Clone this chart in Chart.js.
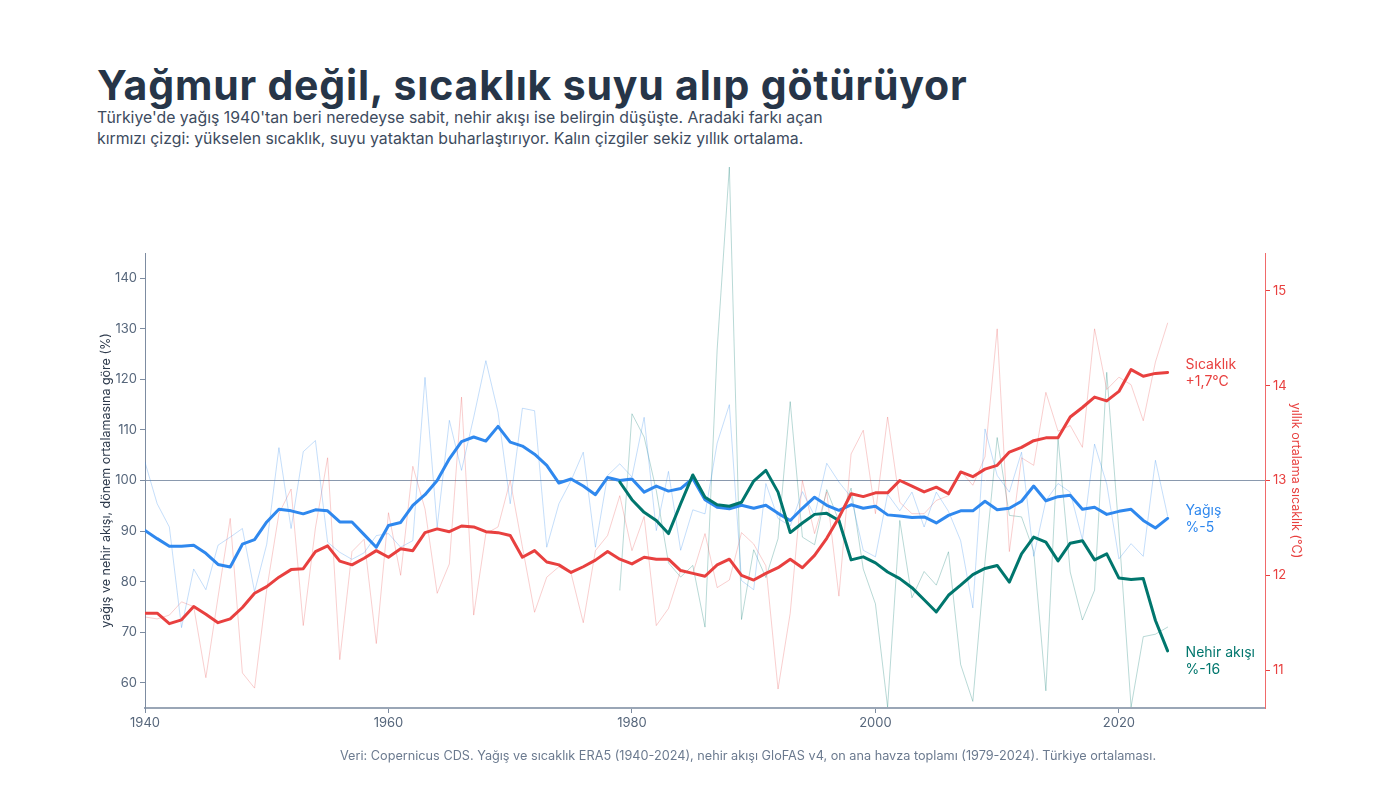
<!DOCTYPE html>
<html lang="tr">
<head>
<meta charset="utf-8">
<title>Yağmur değil, sıcaklık suyu alıp götürüyor</title>
<script src="https://cdn.jsdelivr.net/npm/chart.js@4.4.1/dist/chart.umd.min.js"></script>
<style>
  html, body { margin: 0; padding: 0; background: #fff; }
  body { width: 1400px; height: 788px; position: relative; overflow: hidden; font-family: "Inter", "Noto Sans", sans-serif; }
  #wrap { position: absolute; left: 0; top: 0; width: 1400px; height: 788px; }
  h1 { position: absolute; left: 97px; top: 60px; margin: 0; font-size: 41px; font-weight: 700; color: #263548; letter-spacing: 0.8px; }
  .sub { position: absolute; left: 97px; top: 107px; margin: 0; font-size: 15.8px; line-height: 21px; color: #3d4b5e; }
  .note { position: absolute; left: 340px; top: 748px; margin: 0; font-size: 12.7px; color: #6b7a8f; }
</style>
</head>
<body>
<h1>Yağmur değil, sıcaklık suyu alıp götürüyor</h1>
<p class="sub">Türkiye'de yağış 1940'tan beri neredeyse sabit, nehir akışı ise belirgin düşüşte. Aradaki farkı açan<br>kırmızı çizgi: yükselen sıcaklık, suyu yataktan buharlaştırıyor. Kalın çizgiler sekiz yıllık ortalama.</p>
<div id="wrap"><canvas id="chart" width="1400" height="788"></canvas></div>
<p class="note">Veri: Copernicus CDS. Yağış ve sıcaklık ERA5 (1940-2024), nehir akışı GloFAS v4, on ana havza toplamı (1979-2024). Türkiye ortalaması.</p>

<script>
// yıllar
const years = [];
for (let y = 1940; y <= 2024; y++) years.push(y);
const flowYears = years.filter(y => y >= 1979);

// yağış, dönem ortalamasına göre %
const precipRaw = [
  103.6, 95.4, 90.8, 70.9, 82.5, 78.4, 87.2, 88.8, 90.5, 78.0,
  87.4, 106.5, 90.5, 105.7, 107.9, 87.8, 85.8, 84.4, 85.7, 89.1,
  89.5, 86.8, 88.1, 120.4, 90.8, 111.9, 102.0, 112.5, 123.7, 113.5,
  95.4, 114.3, 113.8, 86.8, 95.4, 100.0, 105.6, 86.8, 101.0, 103.3,
  100.7, 112.5, 90.1, 101.8, 86.2, 94.2, 93.4, 107.4, 115.0, 80.2,
  78.4, 99.4, 92.5, 91.0, 97.8, 93.0, 103.4, 99.7, 96.7, 86.2,
  84.9, 97.3, 94.0, 97.7, 90.8, 97.7, 93.9, 88.1, 74.8, 110.2,
  101.0, 97.7, 105.6, 85.0, 96.0, 99.4, 97.7, 88.3, 107.2, 99.3,
  84.5, 87.5, 85.0, 104.0, 93.0
];
const precipSmooth = [
  90.1, 88.5, 87.0, 87.0, 87.2, 85.6, 83.4, 82.9, 87.4, 88.3,
  91.8, 94.3, 94.0, 93.4, 94.2, 94.0, 91.8, 91.8, 89.3, 86.8,
  91.1, 91.7, 95.1, 97.2, 100.0, 104.3, 107.7, 108.6, 107.8, 110.7,
  107.6, 106.8, 105.2, 103.0, 99.5, 100.3, 98.9, 97.2, 100.6, 100.0,
  100.3, 97.7, 98.9, 97.9, 98.4, 100.4, 96.2, 94.7, 94.4, 95.1,
  94.5, 95.1, 93.5, 92.1, 94.5, 96.7, 95.1, 94.1, 95.2, 94.5,
  94.9, 93.2, 93.0, 92.7, 92.8, 91.6, 93.1, 94.0, 94.0, 95.9,
  94.2, 94.5, 95.9, 98.9, 96.0, 96.8, 97.1, 94.3, 94.7, 93.3,
  93.9, 94.3, 92.1, 90.6, 92.5
];

// yıllık ortalama sıcaklık °C
const tempRaw = [
  11.56, 11.54, 11.58, 11.72, 11.67, 10.92, 11.77, 12.60, 10.97, 10.81,
  11.85, 12.65, 12.91, 11.47, 12.50, 13.24, 11.11, 12.25, 12.38, 11.28,
  12.66, 12.00, 13.15, 12.70, 11.81, 12.12, 13.88, 11.58, 12.44, 12.51,
  13.00, 12.30, 11.61, 11.98, 12.09, 12.02, 11.50, 12.26, 12.42, 12.84,
  12.26, 12.62, 11.47, 11.65, 12.05, 12.02, 12.44, 11.87, 11.95, 12.45,
  12.33, 12.10, 10.80, 11.60, 13.00, 12.44, 12.88, 11.78, 13.28, 13.53,
  12.65, 13.67, 12.77, 12.65, 12.65, 12.79, 12.84, 13.10, 12.95, 13.25,
  14.60, 12.25, 13.24, 13.16, 13.93, 13.52, 13.58, 13.35, 14.60, 13.96,
  14.09, 14.01, 13.63, 14.25, 14.66
];
const tempSmooth = [
  11.60, 11.60, 11.49, 11.53, 11.67, 11.59, 11.50, 11.54, 11.66, 11.81,
  11.88, 11.98, 12.06, 12.07, 12.25, 12.31, 12.15, 12.11, 12.18, 12.26,
  12.19, 12.28, 12.26, 12.45, 12.49, 12.46, 12.52, 12.51, 12.46, 12.45,
  12.42, 12.19, 12.26, 12.14, 12.11, 12.03, 12.09, 12.16, 12.25, 12.17,
  12.12, 12.19, 12.17, 12.17, 12.05, 12.02, 11.99, 12.11, 12.17, 12.00,
  11.95, 12.02, 12.08, 12.17, 12.08, 12.21, 12.39, 12.61, 12.86, 12.83,
  12.87, 12.87, 13.00, 12.94, 12.88, 12.93, 12.86, 13.09, 13.04, 13.12,
  13.16, 13.30, 13.35, 13.42, 13.45, 13.45, 13.67, 13.77, 13.88, 13.84,
  13.94, 14.17, 14.10, 14.13, 14.14
];

// nehir akışı, dönem ortalamasına göre % (1979-2024)
const flowRaw = [
  78.3, 113.2, 108.6, 98.0, 83.7, 80.9, 83.2, 71.0, 126.0, 162.0, 72.5,
  86.3, 80.8, 88.5, 115.6, 88.8, 87.3, 98.2, 92.0, 98.5, 82.5,
  75.6, 55.2, 92.1, 76.8, 82.0, 79.3, 85.9, 63.6, 56.3, 84.0,
  108.5, 93.1, 92.8, 86.0, 58.4, 108.4, 81.9, 72.4, 78.3, 121.4,
  90.0, 55.2, 69.1, 69.6, 71.0
];
const flowSmooth = [
  99.7, 96.2, 93.7, 92.1, 89.5, 95.4, 101.1, 96.7, 95.2, 94.9, 95.7,
  99.9, 102.0, 97.7, 89.7, 91.6, 93.3, 93.5, 92.1, 84.3, 84.9,
  83.7, 81.9, 80.6, 78.8, 76.4, 74.0, 77.3, 79.3, 81.4, 82.6,
  83.2, 79.9, 85.5, 88.8, 87.8, 84.1, 87.6, 88.1, 84.3, 85.5,
  80.7, 80.4, 80.6, 72.3, 66.3
];

// eksen işaretleri
const xTicks = [1940, 1960, 1980, 2000, 2020];
const pctTicks = [60, 70, 80, 90, 100, 110, 120, 130, 140];
const tempTicks = [11, 12, 13, 14, 15];

// uç etiketleri
const endLabels = [
  { ds: 0, lines: ['Sıcaklık', '+1,7°C'], color: '#e8403f', shift: 0 },
  { ds: 1, lines: ['Nehir akışı', '%-16'], color: '#00766d', shift: 10 },
  { ds: 2, lines: ['Yağış', '%-5'], color: '#2f88ee', shift: 0 }
];

const pts = (xs, ys) => xs.map((x, i) => ({ x: x, y: ys[i] }));

const BLUE = '#2f88ee', RED = '#e8403f', TEAL = '#00766d';
const AXIS = '#7d8ca1', TICK = '#56667b';
const FONT = '"Inter", "Noto Sans", sans-serif';

const endLabelPlugin = {
  id: 'endLabels',
  afterDatasetsDraw(chart) {
    const c = chart.ctx;
    c.save();
    c.font = '14px ' + FONT;
    c.textBaseline = 'middle';
    c.textAlign = 'left';
    endLabels.forEach(l => {
      const meta = chart.getDatasetMeta(l.ds);
      const p = meta.data[meta.data.length - 1];
      c.fillStyle = l.color;
      const y0 = p.y + l.shift - 8;
      l.lines.forEach((t, i) => c.fillText(t, p.x + 18, y0 + i * 17));
    });
    c.restore();
  }
};

new Chart(document.getElementById('chart'), {
  type: 'line',
  data: {
    datasets: [
      { data: pts(years, tempSmooth), yAxisID: 'yT', borderColor: RED, borderWidth: 3, order: 0 },
      { data: pts(flowYears, flowSmooth), yAxisID: 'y', borderColor: TEAL, borderWidth: 3, order: 1 },
      { data: pts(years, precipSmooth), yAxisID: 'y', borderColor: BLUE, borderWidth: 3, order: 2 },
      { data: pts(years, precipRaw), yAxisID: 'y', borderColor: 'rgba(47,136,238,0.28)', borderWidth: 1, order: 3 },
      { data: pts(years, tempRaw), yAxisID: 'yT', borderColor: 'rgba(232,64,63,0.25)', borderWidth: 1, order: 3 },
      { data: pts(flowYears, flowRaw), yAxisID: 'y', borderColor: 'rgba(0,118,109,0.28)', borderWidth: 1, order: 3, clip: false }
    ]
  },
  options: {
    responsive: false,
    animation: false,
    events: [],
    elements: { point: { radius: 0 }, line: { tension: 0, borderJoinStyle: 'round', borderCapStyle: 'round' } },
    layout: { padding: { top: 253, left: 95, right: 93, bottom: 0 } },
    plugins: { legend: { display: false }, tooltip: { enabled: false } },
    scales: {
      x: {
        type: 'linear', min: 1940, max: 2032,
        afterBuildTicks: s => { s.ticks = xTicks.map(v => ({ value: v })); },
        afterFit: s => { s.height = 80; },
        ticks: { color: TICK, font: { family: FONT, size: 13 }, padding: 2, maxRotation: 0, callback: v => String(v) },
        grid: { drawOnChartArea: false, tickLength: 5, tickColor: AXIS },
        border: { color: '#9aa6b6', width: 2 }
      },
      y: {
        position: 'left', min: 55, max: 145,
        afterBuildTicks: s => { s.ticks = pctTicks.map(v => ({ value: v })); },
        afterFit: s => { s.width = 50; },
        ticks: { color: TICK, font: { family: FONT, size: 13 }, padding: 3 },
        grid: {
          color: c => (c.tick && c.tick.value === 100) ? '#8a99ae' : 'rgba(0,0,0,0)',
          tickColor: AXIS, tickLength: 5, lineWidth: 1
        },
        border: { color: AXIS, width: 1 },
        title: { display: true, text: 'yağış ve nehir akışı, dönem ortalamasına göre (%)', color: '#2d3a4c', font: { family: FONT, size: 12.5 }, padding: { top: 4, bottom: 0 } }
      },
      yT: {
        position: 'right', min: 10.6, max: 15.4,
        afterBuildTicks: s => { s.ticks = tempTicks.map(v => ({ value: v })); },
        afterFit: s => { s.width = 42; },
        ticks: { color: RED, font: { family: FONT, size: 13 }, padding: 3 },
        grid: { drawOnChartArea: false, tickColor: RED, tickLength: 5 },
        border: { color: '#f06a6a', width: 1 },
        title: { display: true, text: 'yıllık ortalama sıcaklık (°C)', color: RED, font: { family: FONT, size: 12.5 }, padding: { top: 4, bottom: 0 } }
      }
    }
  },
  plugins: [endLabelPlugin]
});
</script>
</body>
</html>
